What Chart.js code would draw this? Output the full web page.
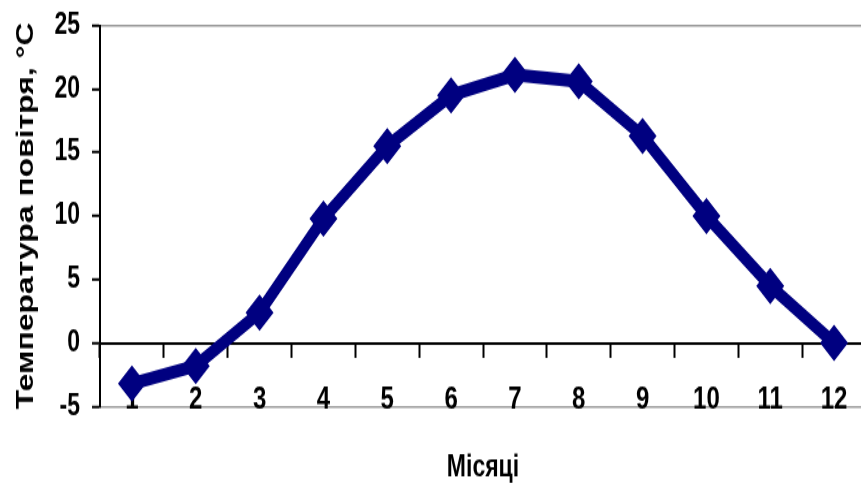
<!DOCTYPE html>
<html>
<head>
<meta charset="utf-8">
<script src="https://cdn.jsdelivr.net/npm/chart.js@4"></script>
<style>
  html { overflow: hidden; }
  html, body { margin: 0; padding: 0; background: #fff; }
</style>
</head>
<body>
<!-- the original picture is an Excel chart stretched vertically and cut on the right:
     draw it flat, a bit wider than the window, and let CSS stretch it -->
<canvas id="temp-chart" width="880" height="375" style="display:block; width:880px; height:488px;"></canvas>
<script>
const months = ['1', '2', '3', '4', '5', '6', '7', '8', '9', '10', '11', '12'];
const temperatures = [-3.2, -1.8, 2.4, 9.8, 15.5, 19.5, 21.1, 20.6, 16.3, 10.0, 4.5, 0.0];
const yTicks = [-5, 0, 5, 10, 15, 20, 25];

const fontFamily = "'Liberation Sans', Arial, sans-serif";
const navy = '#000080';

function createTemperatureChart() {
    const ctx = document.getElementById('temp-chart').getContext('2d');
    return new Chart(ctx, {
        type: 'line',
        data: {
            labels: months,
            datasets: [{
                data: temperatures,
                borderColor: navy,
                backgroundColor: navy,
                borderWidth: 10,
                borderJoinStyle: 'round',
                tension: 0,
                pointStyle: 'rectRot',
                pointRadius: 14,
                pointBorderWidth: 0
            }]
        },
        options: {
            responsive: false,
            animation: false,
            events: [],
            layout: {
                padding: { top: 19.5, right: 0, bottom: 2, left: 0 }
            },
            plugins: {
                legend: { display: false },
                tooltip: { enabled: false },
                title: {
                    display: true,
                    position: 'bottom',
                    fullSize: false,
                    text: 'Місяці',
                    color: '#000',
                    font: { family: fontFamily, size: 23, weight: 'bold' },
                    padding: { top: 33, bottom: 0 }
                }
            },
            scales: {
                x: {
                    type: 'category',
                    position: { y: 0 },
                    offset: true,
                    afterFit: (scale) => { scale.paddingLeft = 0; scale.paddingRight = 0; },
                    border: { display: true, color: '#000', width: 2 },
                    grid: {
                        offset: true,
                        drawOnChartArea: false,
                        tickLength: 10,
                        tickColor: '#000',
                        tickWidth: 2
                    },
                    ticks: {
                        color: '#000',
                        padding: 19,
                        maxRotation: 0,
                        autoSkip: false,
                        font: { family: fontFamily, size: 24, weight: 'bold' }
                    }
                },
                y: {
                    min: -5,
                    max: 25,
                    afterFit: (scale) => {
                        scale.width = 100;
                        scale.paddingTop = 0;
                        scale.paddingBottom = 0;
                    },
                    afterBuildTicks: (scale) => {
                        scale.ticks = yTicks.map(v => ({ value: v }));
                    },
                    border: { display: true, color: '#000', width: 2 },
                    grid: {
                        color: (c) => (c.tick && (c.tick.value === 25 || c.tick.value === -5)) ? '#999' : 'rgba(0,0,0,0)',
                        lineWidth: 1.5,
                        tickLength: 8,
                        tickColor: '#000',
                        tickWidth: 2
                    },
                    ticks: {
                        color: '#000',
                        padding: 12,
                        font: { family: fontFamily, size: 23, weight: 'bold' }
                    },
                    title: {
                        display: true,
                        text: 'Температура повітря, °C',
                        color: '#000',
                        font: { family: fontFamily, size: 24.5, weight: 'bold' },
                        padding: { top: 12, bottom: 0 }
                    }
                }
            }
        }
    });
}

createTemperatureChart();
</script>
</body>
</html>
